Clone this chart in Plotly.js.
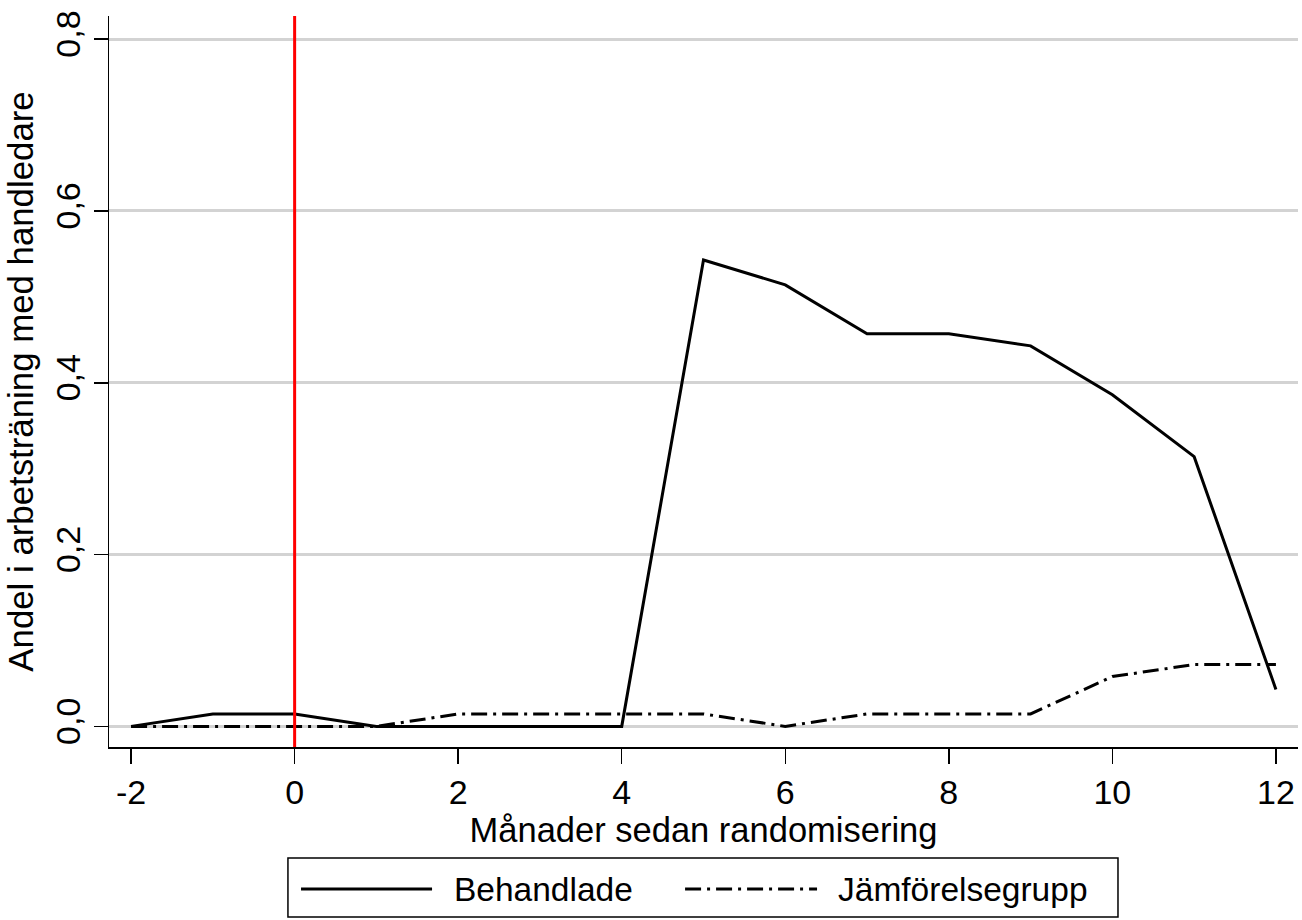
<!DOCTYPE html>
<html>
<head>
<meta charset="utf-8">
<script src="https://cdn.plot.ly/plotly-3.0.1.min.js"></script>
<style>
  html, body { margin: 0; padding: 0; background: #fff; }
  #chart { width: 1302px; height: 920px; }
</style>
</head>
<body>
<div id="chart"></div>
<script>
// ---- data ----
const months = [-2, -1, 0, 1, 2, 3, 4, 5, 6, 7, 8, 9, 10, 11, 12];
const behandlade = [0, 0.0145, 0.0145, 0, 0, 0, 0, 0.543, 0.514, 0.457, 0.457, 0.443, 0.386, 0.314, 0.043];
const jamforelsegrupp = [0, 0, 0, 0, 0.0145, 0.0145, 0.0145, 0.0145, 0, 0.0145, 0.0145, 0.0145, 0.058, 0.072, 0.072];
const seriesNames = ['Behandlade', 'Jämförelsegrupp'];
const randomizationMonth = [0];
const xTickVals = [-2, 0, 2, 4, 6, 8, 10, 12];
const xTickText = ['-2', '0', '2', '4', '6', '8', '10', '12'];
const yTickVals = [0, 0.2, 0.4, 0.6, 0.8];
const yTickText = ['0,0', '0,2', '0,4', '0,6', '0,8'];
const xTitle = 'Månader sedan randomisering';
const yTitle = 'Andel i arbetsträning med handledare';

// ---- styles ----
const FONT = 'Liberation Sans, Arial, Helvetica, sans-serif';
const solidLine = { color: '#000000', width: 3, dash: 'solid' };
const dashDotLine = { color: '#000000', width: 3, dash: '16px,6px,3px,6px' };

const traces = [
  { x: months, y: behandlade, type: 'scatter', mode: 'lines', name: seriesNames[0], line: solidLine, showlegend: false },
  { x: months, y: jamforelsegrupp, type: 'scatter', mode: 'lines', name: seriesNames[1], line: dashDotLine, showlegend: false }
];

// custom legend (paper coordinates), emulating the long Stata legend keys
const L = { x0: 0.1505, x1: 0.8486, y0: -0.2325, y1: -0.1518, yc: -0.1943 };
const keys = [
  { lx0: 0.1615, lx1: 0.2717, tx: 0.2885, line: solidLine, name: seriesNames[0] },
  { lx0: 0.4845, lx1: 0.5955, tx: 0.6115, line: dashDotLine, name: seriesNames[1] }
];

const shapes = [
  { type: 'line', xref: 'x', yref: 'paper', x0: randomizationMonth[0], x1: randomizationMonth[0], y0: 0, y1: 1,
    line: { color: '#FF0000', width: 3 }, layer: 'above' },
  { type: 'rect', xref: 'paper', yref: 'paper', x0: L.x0, x1: L.x1, y0: L.y0, y1: L.y1,
    line: { color: '#000000', width: 1.5 }, fillcolor: 'rgba(0,0,0,0)', layer: 'above' }
];
const annotations = [];
keys.forEach(k => {
  shapes.push({ type: 'line', xref: 'paper', yref: 'paper', x0: k.lx0, x1: k.lx1, y0: L.yc, y1: L.yc,
    line: { color: k.line.color, width: k.line.width, dash: k.line.dash }, layer: 'above' });
  annotations.push({ xref: 'paper', yref: 'paper', x: k.tx, y: L.yc, xanchor: 'left', yanchor: 'middle',
    text: k.name, showarrow: false, font: { family: FONT, size: 33.5, color: '#000' } });
});

const layout = {
  width: 1302, height: 920,
  margin: { l: 109, r: 4, t: 16, b: 173 },
  paper_bgcolor: '#ffffff', plot_bgcolor: '#ffffff',
  font: { family: FONT, size: 34, color: '#000' },
  showlegend: false,
  xaxis: {
    range: [-2.27, 12.27],
    tickvals: xTickVals, ticktext: xTickText,
    ticks: 'outside', ticklen: 15, tickwidth: 1.5, tickcolor: '#000',
    showline: true, linecolor: '#000', linewidth: 1.5,
    showgrid: false, zeroline: false,
    tickfont: { family: FONT, size: 34, color: '#000' },
    title: { text: xTitle, font: { family: FONT, size: 34.5, color: '#000' }, standoff: 0 },
    automargin: false
  },
  yaxis: {
    range: [-0.024, 0.827],
    tickvals: yTickVals, ticktext: yTickText,
    tickangle: -90,
    ticks: 'outside', ticklen: 14, tickwidth: 1.5, tickcolor: '#000',
    showline: true, linecolor: '#000', linewidth: 1.5,
    showgrid: true, gridcolor: '#D3D3D3', gridwidth: 3,
    zeroline: false,
    tickfont: { family: FONT, size: 34, color: '#000' },
    title: { text: yTitle, font: { family: FONT, size: 34.8, color: '#000' }, standoff: 4 },
    automargin: false
  },
  shapes: shapes,
  annotations: annotations
};

Plotly.newPlot('chart', traces, layout, { staticPlot: true, displayModeBar: false });
</script>
</body>
</html>
